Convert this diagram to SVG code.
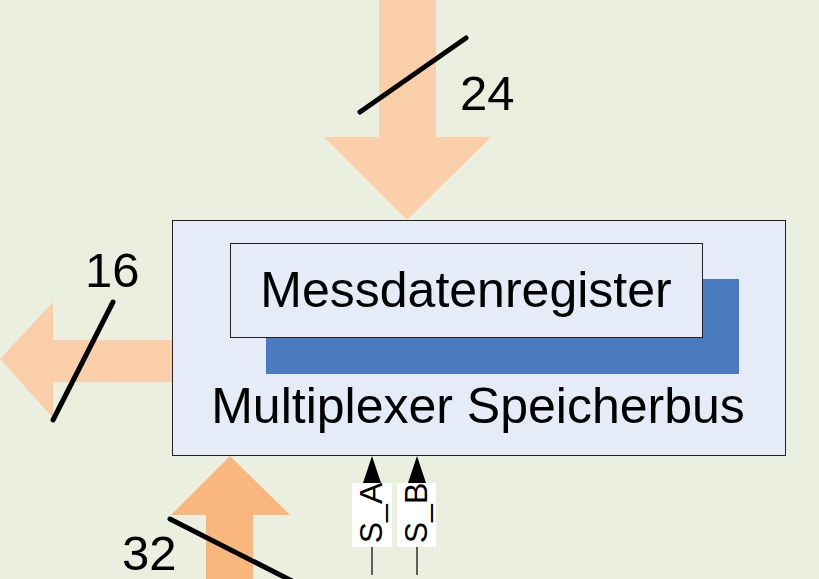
<svg xmlns="http://www.w3.org/2000/svg" width="819" height="579" viewBox="0 0 819 579">
<style>
.lbl{font-family:"Liberation Sans",Arial,sans-serif;fill:#000}
.big{font-size:50px}
.num{font-size:49px}
.sig{font-size:32px}
.slash{stroke:#000;stroke-width:5;stroke-linecap:round;fill:none}
.bus{fill:#FACFAA}
.bus2{fill:#F9B77E}
.wire{stroke:#000;stroke-width:1.2;fill:none}
</style>
<rect x="0" y="0" width="819" height="579" fill="#EBEFDF"/>
<g id="connectors">
<g id="bus-top">
<polygon class="bus" points="379,0 436,0 436,137 491,137 407,220 324,137 379,137"/>
<line class="slash" x1="360" y1="112" x2="466" y2="38"/>
<text class="lbl num" x="460" y="110">24</text>
</g>
<g id="bus-left">
<polygon class="bus" points="172,340 172,382 53,382 53,418 0,359 53,302 53,340"/>
<line class="slash" x1="113" y1="302" x2="53" y2="420"/>
<text class="lbl num" x="85" y="287">16</text>
</g>
<g id="bus-bottom">
<polygon class="bus2" points="206,579 206,515 171,515 230,456 290,515 253,515 253,579"/>
<line class="slash" x1="170" y1="519" x2="296" y2="583"/>
<text class="lbl num" x="122" y="570">32</text>
</g>
<g id="sig-a">
<line class="wire" x1="372" y1="575" x2="372" y2="547"/>
<polygon points="372,456 381,483 363,483" fill="#000"/>
<rect x="352" y="483" width="40" height="64" fill="#fff"/>
<text class="lbl sig" text-anchor="middle" transform="translate(382,513) rotate(-90)">S_A</text>
</g>
<g id="sig-b">
<line class="wire" x1="417" y1="575" x2="417" y2="547"/>
<polygon points="417,456 426,483 408,483" fill="#000"/>
<rect x="397" y="483" width="39" height="64" fill="#fff"/>
<text class="lbl sig" text-anchor="middle" transform="translate(427,513) rotate(-90)">S_B</text>
</g>
</g>
<g id="multiplexer">
<rect x="172.5" y="220.5" width="613" height="235" fill="#E5ECF7" stroke="#222" stroke-width="1"/>
<text class="lbl big" x="478" y="423" text-anchor="middle">Multiplexer Speicherbus</text>
</g>
<g id="register-shadow">
<rect x="266" y="279" width="473" height="95" fill="#4A7AC0"/>
</g>
<g id="messdatenregister">
<rect x="230.5" y="243.5" width="472" height="94" fill="#E5ECF7" stroke="#222" stroke-width="1"/>
<text class="lbl big" x="466" y="307" text-anchor="middle">Messdatenregister</text>
</g>
</svg>
